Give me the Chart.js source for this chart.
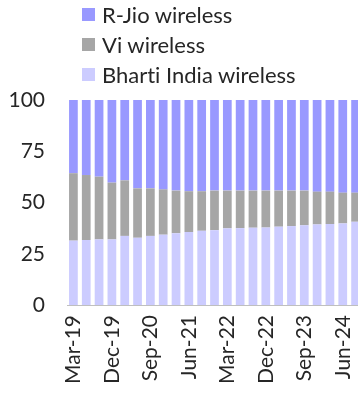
<!DOCTYPE html>
<html>
<head>
<meta charset="utf-8">
<script src="https://cdn.jsdelivr.net/npm/chart.js@4.4.1/dist/chart.umd.min.js"></script>
<style>
  html, body { margin: 0; padding: 0; background: #fff; overflow: hidden; }
  #wrap { position: relative; width: 362px; height: 396px; }
  #legend { position: absolute; left: 82px; top: 0; font-family: Lato, sans-serif; font-size: 22px; color: #262626; font-variant-ligatures: none; }
  .item { position: absolute; left: 0; white-space: nowrap; height: 30px; line-height: 30px; }
  .box { position: absolute; left: 0; top: 8px; width: 13px; height: 13px; }
  .txt { position: absolute; left: 20px; top: 0; }
</style>
</head>
<body>
<div id="wrap">
  <canvas id="shareChart" width="362" height="396"></canvas>
  <div id="legend"></div>
</div>
<script>
// Quarterly wireless subscriber share (%), Mar-19 .. Sep-24
const quarters = ['Mar-19', 'Jun-19', 'Sep-19', 'Dec-19', 'Mar-20', 'Jun-20', 'Sep-20', 'Dec-20',
                  'Mar-21', 'Jun-21', 'Sep-21', 'Dec-21', 'Mar-22', 'Jun-22', 'Sep-22', 'Dec-22',
                  'Mar-23', 'Jun-23', 'Sep-23', 'Dec-23', 'Mar-24', 'Jun-24', 'Sep-24'];

const bhartiShare = [31.4, 31.7, 32.0, 32.0, 33.7, 32.8, 33.7, 34.3, 35.0, 35.6, 36.2, 36.5,
                     37.4, 37.5, 37.7, 37.8, 38.2, 38.5, 38.9, 39.3, 39.5, 39.8, 40.6];
const viShare = [32.9, 31.7, 30.6, 27.7, 27.1, 24.1, 23.2, 22.1, 20.8, 19.9, 19.3, 19.3,
                 18.4, 18.3, 18.1, 18.0, 17.6, 17.3, 16.9, 16.0, 15.8, 15.0, 14.2];
const jioShare = [35.7, 36.6, 37.4, 40.3, 39.2, 43.1, 43.1, 43.6, 44.2, 44.5, 44.5, 44.2,
                  44.2, 44.2, 44.2, 44.2, 44.2, 44.2, 44.2, 44.7, 44.7, 45.2, 45.2];

const yTicks = [0, 25, 50, 75, 100];

Chart.defaults.font.family = 'Lato, sans-serif';
Chart.defaults.font.size = 21;
Chart.defaults.color = '#262626';

const ctx = document.getElementById('shareChart').getContext('2d');

// stacking goes bottom -> top in dataset order
const shareChart = new Chart(ctx, {
    type: 'bar',
    data: {
        labels: quarters,
        datasets: [
            { label: 'Bharti India wireless', data: bhartiShare, backgroundColor: '#ccccff' },
            { label: 'Vi wireless', data: viShare, backgroundColor: '#a6a6a6' },
            { label: 'R-Jio wireless', data: jioShare, backgroundColor: '#9999ff' }
        ]
    },
    options: {
        responsive: false,
        animation: false,
        layout: { padding: { top: 100, left: 0, right: 0, bottom: 0 } },
        datasets: { bar: { barPercentage: 0.68, categoryPercentage: 1 } },
        scales: {
            x: {
                stacked: true,
                grid: { display: false, drawTicks: false },
                border: { display: true, color: '#bfbfbf', width: 1 },
                ticks: {
                    autoSkip: false,
                    minRotation: 90,
                    maxRotation: 90,
                    padding: 10,
                    callback: (val, i) => (i % 3 === 0 ? quarters[i] : '')
                },
                afterFit: (scale) => {
                    scale.height = 91;
                    // let the plot run right up to (and past) the window edge
                    scale.paddingLeft = 0;
                    scale.paddingRight = 0;
                }
            },
            y: {
                stacked: true,
                min: 0,
                max: 100,
                grid: { display: false, drawTicks: false },
                border: { display: false },
                afterBuildTicks: (scale) => { scale.ticks = yTicks.map(v => ({ value: v })); },
                ticks: { padding: 22 },
                afterFit: (scale) => {
                    scale.width = 67;
                    scale.paddingTop = 0;
                    scale.paddingBottom = 0;
                }
            }
        },
        plugins: {
            legend: { display: false },
            tooltip: { enabled: false }
        }
    }
});

// Vertical legend (top series first), built from the chart's own datasets
const legendEl = document.getElementById('legend');
shareChart.data.datasets.slice().reverse().forEach((ds, i) => {
    const item = document.createElement('div');
    item.className = 'item';
    item.style.top = (i * 30) + 'px';
    item.innerHTML = `<span class="box" style="background:${ds.backgroundColor}"></span><span class="txt">${ds.label}</span>`;
    legendEl.appendChild(item);
});
</script>
</body>
</html>
